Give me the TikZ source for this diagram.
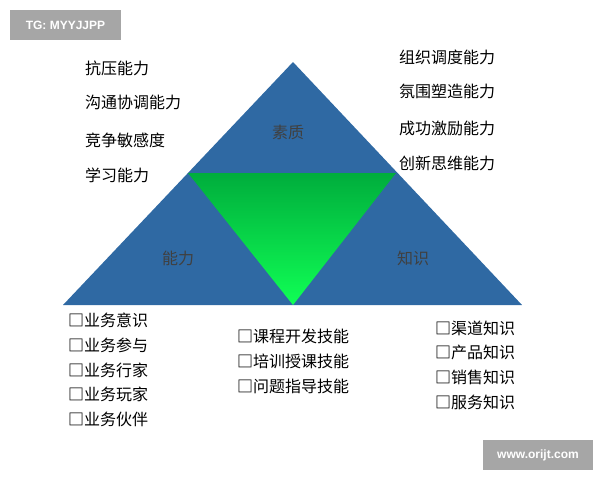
\documentclass[tikz,border=0pt]{standalone}
\usepackage{fontspec}
\setmainfont{Noto Sans CJK SC}[BoldFont={Noto Sans CJK SC Bold}]
\setsansfont{Liberation Sans}
\definecolor{pyrblue}{HTML}{2F69A3}
\definecolor{topgreen}{HTML}{00AD3C}
\definecolor{lowgreen}{HTML}{10FF55}
\definecolor{markgray}{HTML}{A6A6A6}
\newcommand{\chk}{{\bfseries □}}
\tikzset{
  item/.style={anchor=west, font=\fontsize{16}{18}\selectfont, inner sep=0pt},
  part/.style={font=\fontsize{16}{18}\selectfont, text=black!75},
  markbox/.style={fill=markgray, text=white, font=\sffamily\bfseries\fontsize{12}{14}\selectfont}
}
\begin{document}
\begin{tikzpicture}[x=1pt, y=-1pt]
  \useasboundingbox (0,0) rectangle (600,480);

  % === Triangolo ===
  \coordinate (apex) at (293,62);
  \coordinate (bl) at (63,305);
  \coordinate (br) at (522,305);
  \coordinate (ml) at (188,173);
  \coordinate (mr) at (396,173);
  \coordinate (mb) at (293,305);
  \fill[pyrblue] (apex) -- (br) -- (bl) -- cycle;
  \shade[top color=topgreen, bottom color=lowgreen] (ml) -- (mr) -- (mb) -- cycle;

  \node[part] (suzhi) at (288,132) {素质};
  \node[part] (nengli) at (178,258) {能力};
  \node[part] (zhishi) at (413,258) {知识};

  % === Testi a sinistra e a destra ===
  \node[item] (l1) at (85,68) {抗压能力};
  \node[item] (l2) at (85,102) {沟通协调能力};
  \node[item] (l3) at (85,140) {竞争敏感度};
  \node[item] (l4) at (85,175) {学习能力};
  \node[item] (r1) at (399,57) {组织调度能力};
  \node[item] (r2) at (399,91) {氛围塑造能力};
  \node[item] (r3) at (399,128) {成功激励能力};
  \node[item] (r4) at (399,163) {创新思维能力};

  % === Elenchi in basso ===
  \node[item] (b1) at (68,320) {\chk 业务意识};
  \node[item] (b2) at (68,345) {\chk 业务参与};
  \node[item] (b3) at (68,370) {\chk 业务行家};
  \node[item] (b4) at (68,394) {\chk 业务玩家};
  \node[item] (b5) at (68,419) {\chk 业务伙伴};
  \node[item] (c1) at (237,336) {\chk 课程开发技能};
  \node[item] (c2) at (237,361) {\chk 培训授课技能};
  \node[item] (c3) at (237,386) {\chk 问题指导技能};
  \node[item] (d1) at (435,328) {\chk 渠道知识};
  \node[item] (d2) at (435,352) {\chk 产品知识};
  \node[item] (d3) at (435,377) {\chk 销售知识};
  \node[item] (d4) at (435,402) {\chk 服务知识};

  % Filigrane
  \node[markbox, minimum width=111pt, minimum height=30pt] (tg) at (65.5,25) {TG: MYYJJPP};
  \node[markbox, minimum width=110pt, minimum height=30pt] (web) at (538,455) {www.orijt.com};
\end{tikzpicture}
\end{document}
